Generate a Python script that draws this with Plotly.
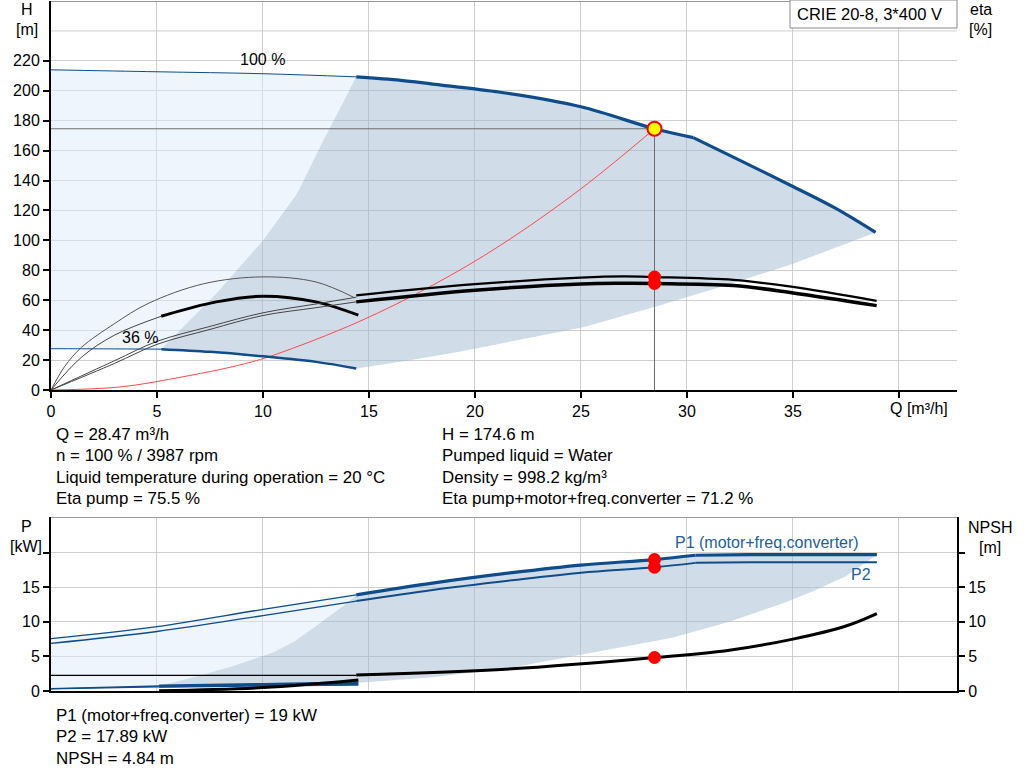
import plotly.graph_objects as go

# --- pump curves, top chart (Q in m3/h, H in m, eta in %) ---
q_h100_thin = [0, 5, 10, 14.4]
h_h100_thin = [214, 212.7, 211.4, 209.3]
q_h100_a = [14.4, 16.5, 18, 21.2, 25, 28.47, 30.3]
h_h100_a = [209.3, 207, 204.5, 199, 189.3, 174.6, 168.7]
q_h100_b = [30.3, 32.5, 34.9, 37, 38.9]
h_h100_b = [168.7, 153.5, 136.7, 121.5, 105.3]

q_h36_thin = [0, 2.5, 5.2]
h_h36_thin = [27.6, 27.5, 27.3]
q_h36 = [5.2, 7.5, 10, 12.5, 14.4]
h_h36 = [27.3, 25.5, 22.5, 18.8, 14.4]

# min flow / max flow boundaries of the operating range
q_minflow = [5.2, 6.5, 7.8, 10, 11.6, 12.85, 13.8, 14.4]
h_minflow = [27.3, 46, 64.4, 100, 131, 166.7, 193.3, 209.3]
q_maxflow = [38.9, 37.9, 35, 31.5, 28.5, 25.1, 21.2, 19.2, 16.5, 14.4]
h_maxflow = [105.3, 100, 84.4, 68.5, 55.6, 42, 31, 25.4, 18.8, 14.4]

# system curve
q_sys = [0, 3.25, 5.9, 8.9, 10.5, 14.5, 18, 21.2, 25, 28.47]
h_sys = [0, 2, 8, 16.7, 23.3, 45.5, 70, 96.7, 134.5, 174.6]

# efficiency curves
q_etap_thin = [0, 3, 5, 7.5, 10, 12.5, 14.4]
etap_thin = [0, 19.6, 32.5, 42.5, 51.6, 57.5, 62]
q_etat_thin = [0, 3, 5, 7.5, 10, 12.5, 14.4]
etat_thin = [0, 17.8, 30.5, 40.5, 49.8, 55, 58.9]
q_etap = [14.4, 20, 25, 27, 28.47, 32.2, 35, 38.95]
etap = [63.3, 70.7, 75.1, 75.9, 75.5, 73.6, 68.9, 59.6]
q_etat = [14.4, 20, 25, 27, 28.47, 32.2, 35, 38.95]
etat = [58.9, 66.7, 70.9, 71.3, 71.2, 69.8, 64.9, 56.4]

q_etap36 = [0, 0.64, 1.43, 3.0, 4.58, 7.2, 10, 12.5, 14.3]
etap36 = [0, 15.6, 28.4, 44.4, 57.8, 71, 75.6, 72.2, 61.8]
q_etat36_thin = [0, 1.43, 3.0, 5.2]
etat36_thin = [0, 21.8, 36.7, 49.3]
q_etat36 = [5.2, 7.8, 10, 12.5, 14.5]
etat36 = [49.3, 58.9, 62.7, 58.9, 50]

# --- bottom chart (P in kW, NPSH in m) ---
q_p_thin = [0, 5, 10, 14.4]
p1_thin = [7.56, 9.3, 11.8, 13.9]
p2_thin = [6.88, 8.6, 10.9, 13.0]
q_p_a = [14.4, 18, 21.75, 25, 28.47, 30.4]
p1_a = [13.9, 15.6, 17.1, 18.2, 19.0, 19.62]
p2_a = [13.0, 14.6, 16.0, 17.1, 17.89, 18.52]
q_p_b = [30.4, 33, 38.96]
p1_b = [19.62, 19.7, 19.7]
p2_b = [18.52, 18.6, 18.6]

q_p36_thin = [0, 5.1]
p1_36_thin = [0.35, 0.72]
p2_36_thin = [0.3, 0.6]
q_p36 = [5.1, 10, 14.5]
p1_36 = [0.72, 0.95, 1.2]
p2_36 = [0.6, 0.78, 0.9]

q_npsh_thin = [0, 14.4]
npsh_thin = [2.27, 2.27]
q_npsh = [14.4, 21.75, 28.47, 32, 35, 37.5, 38.96]
npsh = [2.3, 3.2, 4.84, 5.9, 7.5, 9.4, 11.2]
q_npsh36 = [5.1, 10, 14.5]
npsh36 = [0.05, 0.5, 1.6]

q_pmin = [5.1, 7.0, 8.6, 10.5, 11.5, 12.5, 13.3, 14.0, 14.4]
p_pmin = [0.72, 2.2, 3.6, 5.6, 7.2, 9.4, 11.2, 12.75, 13.9]
q_pmax = [38.96, 37.5, 36, 34.6, 32, 29.3, 25, 21.75, 18, 14.5]
p_pmax = [19.7, 16.6, 14.5, 12.75, 10.0, 7.7, 5.2, 3.4, 2.0, 1.2]

# duty point
q_op = 28.47
h_op = 174.6
eta_pump_op = 75.5
eta_tot_op = 71.2
p1_op = 19
p2_op = 17.89
npsh_op = 4.84

x_ticks = [0, 5, 10, 15, 20, 25, 30, 35, 40]
x_labels = ["0", "5", "10", "15", "20", "25", "30", "35", ""]

BLUE = "#0f4c8a"
DARK_FILL = "rgba(161,185,209,0.5)"
LIGHT_FILL = "rgba(221,235,249,0.5)"
GRID = "#cfcfcf"
FONT = "Liberation Sans, Arial, sans-serif"

W, H = 1024, 781
ML, MR, MT, MB = 51, 67, 1, 90


def px(x, y):
    # pixel position -> paper coordinates
    return (x - ML) / (W - ML - MR), (H - MB - y) / (H - MT - MB)


fig = go.Figure()


def line(x, y, color, width, xa="x", ya="y", shape="spline"):
    fig.add_trace(go.Scatter(x=x, y=y, mode="lines", xaxis=xa, yaxis=ya,
                             line=dict(color=color, width=width, shape=shape),
                             hoverinfo="skip", showlegend=False))


def area(x, y, color, xa="x", ya="y"):
    fig.add_trace(go.Scatter(x=x, y=y, mode="lines", fill="toself", fillcolor=color,
                             xaxis=xa, yaxis=ya, line=dict(width=0),
                             hoverinfo="skip", showlegend=False))


q_h100 = q_h100_a + q_h100_b[1:]
h_h100 = h_h100_a + h_h100_b[1:]
q_p = q_p_a + q_p_b[1:]
p1 = p1_a + p1_b[1:]

# fills top
area(q_h100_thin + q_minflow[::-1] + q_h36_thin[::-1],
     h_h100_thin + h_minflow[::-1] + h_h36_thin[::-1], LIGHT_FILL)
area(q_h100 + q_maxflow + q_h36[::-1] + q_minflow,
     h_h100 + h_maxflow + h_h36[::-1] + h_minflow, DARK_FILL)

# fills bottom
area(q_p_thin + q_pmin[::-1] + q_p36_thin[::-1],
     p1_thin + p_pmin[::-1] + p1_36_thin[::-1], LIGHT_FILL, "x2", "y3")
area(q_p + q_pmax + q_p36[::-1] + q_pmin,
     p1 + p_pmax + p1_36[::-1] + p_pmin, DARK_FILL, "x2", "y3")

# duty point guide lines
line([0, q_op], [h_op, h_op], "#6e6e6e", 1, shape="linear")
line([q_op, q_op], [h_op, 0], "#6e6e6e", 1, shape="linear")

# top curves
line(q_sys, h_sys, "#ff4a4a", 1)
line(q_h100_thin, h_h100_thin, BLUE, 1)
line(q_h100_a, h_h100_a, BLUE, 3.2)
line(q_h100_b, h_h100_b, BLUE, 3.2)
line(q_h36_thin, h_h36_thin, BLUE, 1)
line(q_h36, h_h36, BLUE, 2.5)
line(q_etap36, etap36, "#555555", 1)
line(q_etat36_thin, etat36_thin, "#444444", 1)
line(q_etat36, etat36, "black", 3)
line(q_etap_thin, etap_thin, "#444444", 1)
line(q_etat_thin, etat_thin, "#444444", 1)
line(q_etap, etap, "black", 2.2)
line(q_etat, etat, "black", 3.5)

# bottom curves
line(q_p_thin, p1_thin, BLUE, 1.3, "x2", "y3")
line(q_p_thin, p2_thin, BLUE, 1.3, "x2", "y3")
line(q_p_a, p1_a, BLUE, 3.2, "x2", "y3")
line(q_p_b, p1_b, BLUE, 3.2, "x2", "y3")
line(q_p_a, p2_a, BLUE, 2, "x2", "y3")
line(q_p_b, p2_b, BLUE, 2, "x2", "y3")
line(q_p36_thin, p1_36_thin, BLUE, 1.3, "x2", "y3")
line(q_p36_thin, p2_36_thin, BLUE, 1.3, "x2", "y3")
line(q_p36, p1_36, BLUE, 3, "x2", "y3")
line(q_p36, p2_36, BLUE, 2, "x2", "y3")
line(q_npsh_thin, npsh_thin, "black", 1.2, "x2", "y4")
line(q_npsh, npsh, "black", 3, "x2", "y4")
line(q_npsh36, npsh36, "black", 3, "x2", "y4")

# duty point markers
fig.add_trace(go.Scatter(x=[q_op, q_op], y=[eta_pump_op, eta_tot_op], mode="markers",
                         marker=dict(color="#ff0000", size=13), hoverinfo="skip",
                         showlegend=False))
fig.add_trace(go.Scatter(x=[q_op], y=[h_op], mode="markers",
                         marker=dict(color="#ffff00", size=14,
                                     line=dict(color="#ff0000", width=2)),
                         hoverinfo="skip", showlegend=False))
fig.add_trace(go.Scatter(x=[q_op, q_op], y=[p1_op, p2_op], mode="markers",
                         xaxis="x2", yaxis="y3", marker=dict(color="#ff0000", size=13),
                         hoverinfo="skip", showlegend=False))
fig.add_trace(go.Scatter(x=[q_op], y=[npsh_op], mode="markers",
                         xaxis="x2", yaxis="y4", marker=dict(color="#ff0000", size=13),
                         hoverinfo="skip", showlegend=False))

x_range = [0, 42.74]
top_dom = [(H - MB - 390) / (H - MT - MB), 1]
bot_dom = [0, (H - MB - 517) / (H - MT - MB)]

axis_font = dict(family=FONT, size=16, color="black")
tick_style = dict(ticks="outside", ticklen=6, tickcolor="black", tickwidth=1.5,
                  showline=True, linecolor="black", linewidth=2, zeroline=False)

fig.update_layout(
    width=W, height=H,
    margin=dict(l=ML, r=MR, t=MT, b=MB),
    paper_bgcolor="white", plot_bgcolor="white",
    font=axis_font,
    showlegend=False,
    xaxis=dict(domain=[0, 1], range=x_range, anchor="y", tickvals=x_ticks, ticktext=x_labels,
               showgrid=True, gridcolor=GRID, gridwidth=1, **tick_style),
    yaxis=dict(domain=top_dom, range=[0, 260], anchor="x",
               tickvals=list(range(0, 221, 20)),
               showgrid=True, gridcolor=GRID, gridwidth=1, **tick_style),
    yaxis2=dict(overlaying="y", side="right", range=[0, 260], anchor="x",
                tickvals=list(range(0, 101, 20)), showgrid=False, **tick_style),
    xaxis2=dict(domain=[0, 1], range=x_range, anchor="y3", tickvals=x_ticks,
                showticklabels=False, showgrid=True, gridcolor=GRID, zeroline=False,
                showline=True, linecolor="black", linewidth=2, ticks=""),
    yaxis3=dict(domain=bot_dom, range=[0, 25.15], anchor="x2",
                tickvals=[0, 5, 10, 15, 20], ticktext=["0", "5", "10", "15", ""],
                showgrid=True, gridcolor=GRID, gridwidth=1, **tick_style),
    yaxis4=dict(overlaying="y3", side="right", range=[0, 25.15], anchor="x2",
                tickvals=[0, 5, 10, 15, 20], ticktext=["0", "5", "10", "15", ""],
                showgrid=False, **tick_style),
)

# extra gridline at 240 m and the grey top borders
fig.add_shape(type="line", xref="x", yref="y", x0=0, x1=x_range[1], y0=240, y1=240,
              line=dict(color=GRID, width=1), layer="below")
fig.add_shape(type="line", xref="x", yref="y", x0=0, x1=x_range[1], y0=260, y1=260,
              line=dict(color="#9a9a9a", width=2))
fig.add_shape(type="line", xref="x2", yref="y3", x0=0, x1=x_range[1], y0=25.15, y1=25.15,
              line=dict(color="#9a9a9a", width=2))


def label(text, x, y, anchor="center", color="black", size=16):
    fx, fy = px(x, y)
    fig.add_annotation(text=text, x=fx, y=fy, xref="paper", yref="paper",
                       xanchor=anchor, yanchor="middle", showarrow=False,
                       font=dict(family=FONT, size=size, color=color))


label("H", 27, 9)
label("[m]", 27, 29)
label("eta", 981, 9)
label("[%]", 981, 29)
label("Q [m³/h]", 888, 408, "left")
label("P", 26, 526)
label("[kW]", 26, 546)
label("NPSH", 990, 527)
label("[m]", 990, 547)

fig.add_annotation(text="100 %", x=10, y=221, xref="x", yref="y", showarrow=False,
                   font=dict(family=FONT, size=16, color="black"))
fig.add_annotation(text="36 %", x=4.2, y=35.3, xref="x", yref="y", showarrow=False,
                   font=dict(family=FONT, size=16, color="black"))
fig.add_annotation(text="P1 (motor+freq.converter)", x=33.8, y=21.5, xref="x2", yref="y3",
                   showarrow=False, font=dict(family=FONT, size=16, color="#1f5f99"))
fig.add_annotation(text="P2", x=38.2, y=16.8, xref="x2", yref="y3",
                   showarrow=False, font=dict(family=FONT, size=16, color="#1f5f99"))

# title box
bx0, by1 = px(790, 0)
bx1, by0 = px(957, 28)
fig.add_shape(type="rect", xref="paper", yref="paper", x0=bx0, x1=bx1, y0=by0, y1=by1,
              line=dict(color="#8a8a8a", width=1), fillcolor="white")
label("CRIE 20-8, 3*400 V", 869, 14, size=16.5)

info_left = ["Q = 28.47 m³/h", "n = 100 % / 3987 rpm",
             "Liquid temperature during operation = 20 °C", "Eta pump = 75.5 %"]
info_right = ["H = 174.6 m", "Pumped liquid = Water", "Density = 998.2 kg/m³",
              "Eta pump+motor+freq.converter = 71.2 %"]
info_bottom = ["P1 (motor+freq.converter) = 19 kW", "P2 = 17.89 kW", "NPSH = 4.84 m"]

for i, t in enumerate(info_left):
    label(t, 54, 434 + i * 21.5, "left", size=16.9)
for i, t in enumerate(info_right):
    label(t, 440, 434 + i * 21.5, "left", size=16.9)
for i, t in enumerate(info_bottom):
    label(t, 54, 715 + i * 21.5, "left", size=16.9)

fig.write_html("out.html", config={"displayModeBar": False},
               post_script="document.body.style.margin='0';")
